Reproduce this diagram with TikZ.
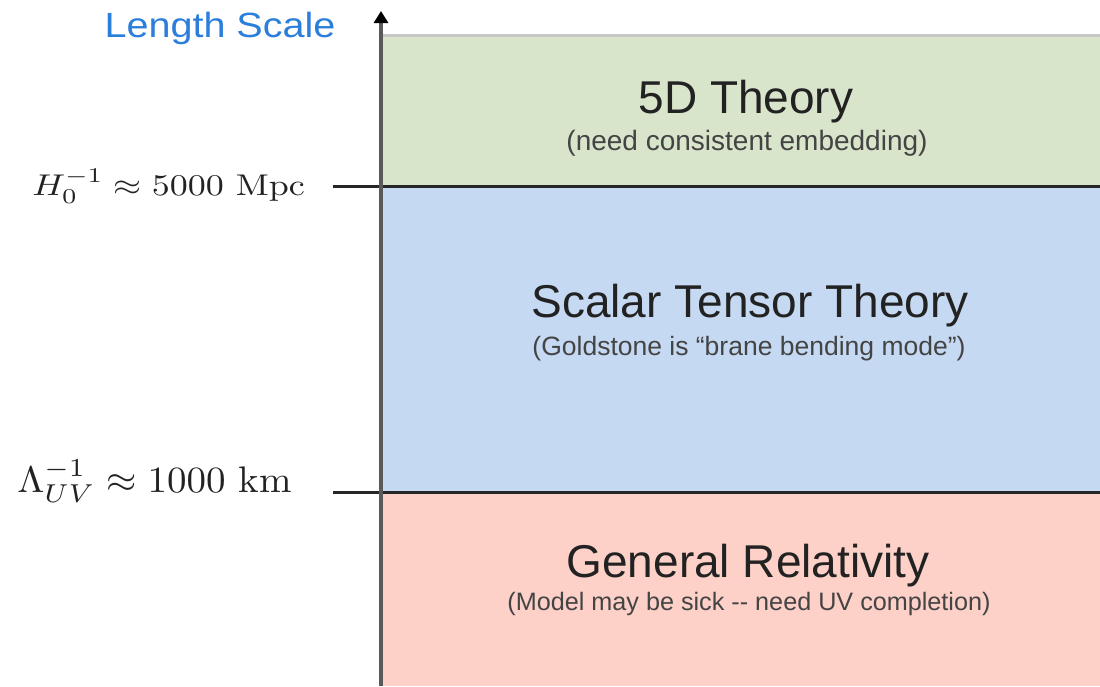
\documentclass[tikz,border=0pt]{standalone}
\usepackage{fontspec}
\setsansfont{Liberation Sans}
\usetikzlibrary{arrows.meta}
\definecolor{greenfill}{HTML}{D9E5CB}
\definecolor{bluefill}{HTML}{C5D9F2}
\definecolor{pinkfill}{HTML}{FDD0C8}
\definecolor{titleblue}{HTML}{2B7FDB}
\definecolor{axisgray}{HTML}{5A5A5A}
\definecolor{titletext}{HTML}{222222}
\definecolor{subtext}{HTML}{444444}
\tikzset{
  bandtitle/.style={font=\sffamily\fontsize{46}{50}\selectfont, text=titletext, inner sep=0pt, anchor=base},
  bandsub/.style={text=subtext, inner sep=0pt, anchor=base},
  divider/.style={draw=black!85, line width=3pt},
  scalelabel/.style={inner sep=0pt, anchor=base east, text=titletext},
}
\begin{document}
\begin{tikzpicture}[x=1pt,y=-1pt]
\useasboundingbox (0,0) rectangle (1100,686);
% bands
\fill[greenfill] (383,36) rectangle (1100,186);
\fill[bluefill] (383,186) rectangle (1100,492);
\fill[pinkfill] (383,492) rectangle (1100,686);
\draw[draw=black!22, line width=3pt] (383,35) -- (1100,35);
% coordinates
\coordinate (axisbot) at (381,686);
\coordinate (axistop) at (381,11);
\coordinate (tickA) at (333,186);
\coordinate (endA) at (1100,186);
\coordinate (tickB) at (333,492);
\coordinate (endB) at (1100,492);
% dividers
\draw[divider] (tickA) -- (endA);
\draw[divider] (tickB) -- (endB);
% axis
\draw[draw=axisgray, line width=3.5pt, -{Triangle[length=12pt,width=14pt,color=black]}] (axisbot) -- (axistop);
% title
\node[font=\sffamily\fontsize{35}{40}\selectfont, text=titleblue, inner sep=0pt, anchor=base] (lenscale) at (220,37) {\scalebox{1.13}[1]{Length Scale}};
% labels
\node[scalelabel] (hlabel) at (305,195) {\scalebox{3.6}[3.0]{$H_0^{-1}\approx 5000\ \mathrm{Mpc}$}};
\node[scalelabel] (llabel) at (292,492) {\scalebox{3.9}[3.7]{$\Lambda_{UV}^{-1}\approx 1000\ \mathrm{km}$}};
% band texts
\node[bandtitle] (fived) at (746,113) {5D Theory};
\node[bandsub, font=\sffamily\fontsize{28}{30}\selectfont] (fivedsub) at (747,150) {(need consistent embedding)};
\node[bandtitle] (scalar) at (750,317) {Scalar Tensor Theory};
\node[bandsub, font=\sffamily\fontsize{26.5}{30}\selectfont] (scalarsub) at (749,355) {(Goldstone is “brane bending mode”)};
\node[bandtitle] (gr) at (748,577) {General Relativity};
\node[bandsub, font=\sffamily\fontsize{25.2}{30}\selectfont] (grsub) at (749,610) {(Model may be sick {-}{-} need UV completion)};
\end{tikzpicture}
\end{document}
